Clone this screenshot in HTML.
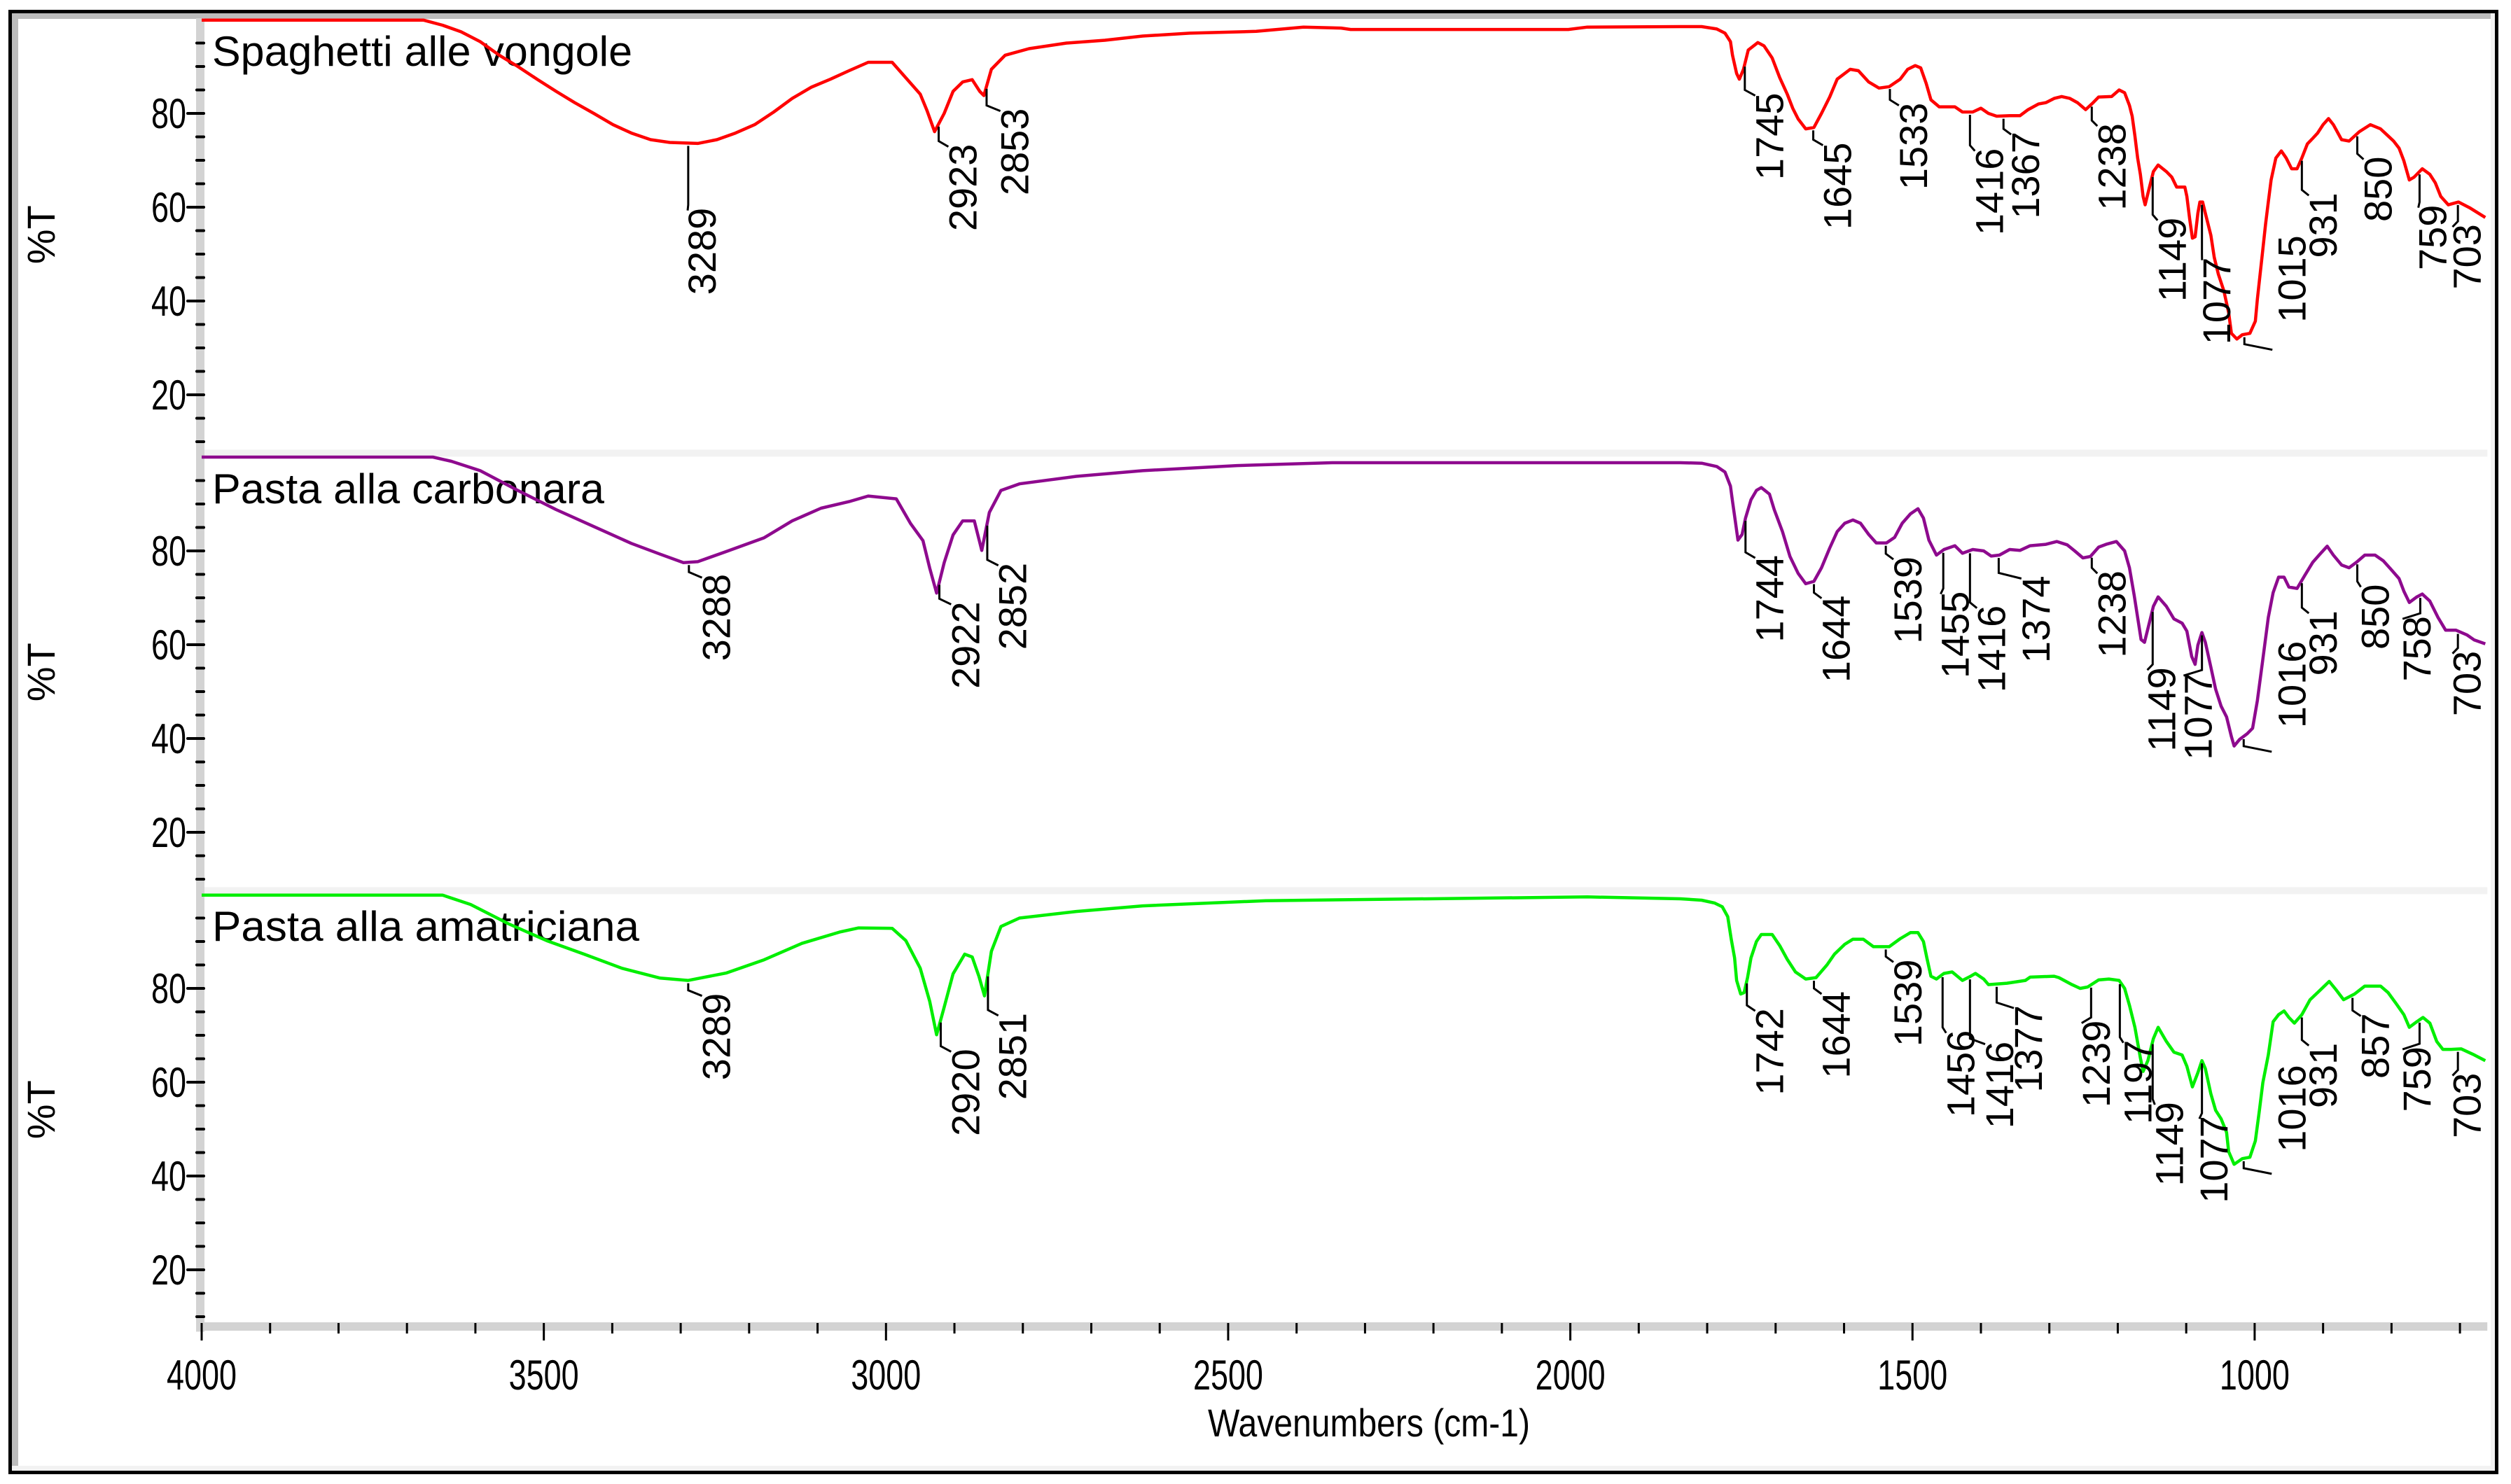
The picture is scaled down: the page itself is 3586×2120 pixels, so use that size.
<!DOCTYPE html>
<html><head><meta charset="utf-8"><style>
html,body{margin:0;padding:0;background:#fff;}
svg{display:block;font-family:"Liberation Sans",Arial,sans-serif;}
</style></head><body>
<svg id="chart" width="3586" height="2120" viewBox="0 0 3586 2120" xmlns="http://www.w3.org/2000/svg">
<rect x="0" y="0" width="3586" height="2120" fill="#fff"/>
<rect x="17" y="19" width="3545" height="8" fill="#bcbcbc"/>
<rect x="17" y="19" width="9" height="2082" fill="#bcbcbc"/>
<rect x="3557" y="19" width="7" height="2082" fill="#f2f2f2"/>
<rect x="17" y="2094" width="3545" height="7" fill="#f2f2f2"/>
<rect x="14.5" y="16.5" width="3551" height="2087" fill="none" stroke="#000" stroke-width="5"/>
<g id="panels"></g>
<g id="xaxis"></g>
<text x="1955" y="2052" font-size="56" text-anchor="middle" textLength="460" lengthAdjust="spacingAndGlyphs">Wavenumbers (cm-1)</text>
</svg>
<script>
const NS='http://www.w3.org/2000/svg';
// ---- data ----
const panelTitles=['Spaghetti alle vongole','Pasta alla carbonara','Pasta alla amatriciana'];
const seriesColors=['#ff0000','#8e0a8e','#00ee00'];
const yTicks=[20,40,60,80];
const xTicks=[4000,3500,3000,2500,2000,1500,1000];

const redWn=[4000,3676,3648,3621,3593,3565,3538,3510,3482,3455,3427,3399,3372,3344,3316,3275,3247,3220,3192,3164,3137,3109,3081,3054,3026,2991,2971,2950,2940,2929,2915,2902,2888,2874,2863,2857,2846,2826,2791,2736,2680,2625,2556,2459,2390,2335,2321,2003,1975,1839,1808,1786,1774,1766,1763,1757,1753,1747,1740,1726,1717,1705,1694,1683,1675,1667,1656,1644,1633,1621,1610,1591,1579,1564,1549,1534,1518,1507,1496,1488,1480,1473,1461,1438,1427,1412,1400,1389,1377,1358,1343,1331,1316,1305,1293,1282,1270,1259,1247,1236,1228,1209,1198,1190,1183,1179,1175,1171,1167,1163,1160,1156,1148,1141,1129,1121,1114,1102,1099,1095,1091,1087,1083,1080,1076,1072,1064,1059,1053,1045,1038,1034,1026,1018,1007,999,996,992,988,984,980,976,969,961,954,946,938,931,923,915,908,900,892,885,873,862,847,831,816,805,797,789,782,774,767,755,744,736,728,717,702,686,663];
const redT=[99.9,99.9,98.8,97.4,95.3,92.4,90.0,87.3,84.7,82.3,80.0,77.6,75.8,74.4,73.8,73.6,74.4,75.8,77.6,80.3,83.2,85.6,87.3,89.1,90.9,90.9,87.6,84.1,80.6,76.1,80.0,84.7,86.7,87.2,84.7,83.8,89.4,92.4,93.8,95.0,95.6,96.5,97.1,97.5,98.4,98.2,97.9,97.9,98.4,98.5,98.5,98.0,97.1,95.3,92.4,88.5,87.3,89.4,93.5,95.1,94.4,91.8,87.6,84.1,81.1,78.8,76.7,77.0,80.0,83.5,87.3,89.4,89.1,86.7,85.4,85.7,87.3,89.4,90.2,89.7,86.4,82.9,81.4,81.4,80.3,80.3,81.1,80.0,79.4,79.5,79.5,80.8,82.0,82.3,83.2,83.6,83.2,82.3,80.8,82.3,83.5,83.6,85.0,84.4,81.7,79.4,75.2,70.5,67.0,62.3,60.5,62.9,67.6,69.0,67.6,66.4,64.3,64.3,62.3,57.5,53.4,53.7,58.7,61.1,61.1,58.7,54.0,49.3,45.7,42.2,37.5,33.1,31.9,32.8,33.1,35.7,40.4,45.7,51.0,56.4,61.1,65.8,70.5,72.0,70.5,68.2,68.2,70.5,73.5,74.7,75.8,77.6,78.9,77.6,74.4,74.1,76.1,77.6,76.7,75.2,74.1,72.6,69.9,65.8,66.4,68.2,67.0,65.2,62.3,60.5,61.1,59.9,57.8];

const purpleWn=[4000,3662,3635,3593,3538,3482,3427,3372,3330,3296,3275,3233,3178,3137,3095,3054,3026,2985,2964,2946,2936,2926,2915,2902,2888,2871,2860,2849,2832,2805,2722,2625,2487,2348,1839,1808,1786,1774,1766,1763,1759,1755,1749,1744,1736,1728,1721,1709,1702,1690,1679,1667,1656,1644,1633,1621,1610,1599,1587,1576,1564,1553,1538,1526,1515,1503,1492,1484,1476,1465,1454,1438,1427,1412,1396,1385,1373,1358,1343,1328,1305,1289,1274,1263,1251,1240,1228,1217,1202,1190,1183,1176,1171,1166,1161,1154,1148,1141,1129,1118,1106,1099,1092,1087,1083,1077,1072,1064,1057,1049,1041,1034,1030,1022,1011,1003,996,988,980,973,965,957,950,938,927,915,904,894,885,873,862,851,839,824,812,801,789,782,774,763,755,744,732,721,706,690,679,663];
const purpleT=[100,100,99.1,97.1,92.9,88.8,85.2,81.6,79.3,77.5,77.7,79.9,82.8,86.4,89.1,90.5,91.7,91.1,85.8,82.2,76.3,71.0,77.5,83.4,86.4,86.4,80.1,88.2,92.9,94.3,95.9,97.1,98.2,98.8,98.8,98.7,98.0,96.8,93.8,90.6,86.5,82.3,83.5,87.0,90.9,92.9,93.5,92.1,88.8,84.1,78.8,75.2,73.0,73.5,76.4,80.6,84.1,85.9,86.6,85.9,83.5,81.7,81.7,82.9,85.9,87.9,89.0,87.0,82.3,79.1,80.3,81.1,79.5,80.3,80.0,78.9,79.1,80.3,80.1,81.1,81.4,82.0,81.3,80.0,78.5,78.8,80.8,81.4,82.0,80.0,76.4,70.5,65.8,61.1,60.5,64.6,68.2,70.2,68.2,65.5,64.6,62.9,57.5,55.8,59.9,62.6,60.5,55.2,50.5,46.9,44.6,40.4,38.4,39.8,41.0,42.2,48.1,56.9,65.8,71.1,74.4,74.4,72.3,72.0,74.7,77.6,79.4,81.0,79.1,77.0,76.4,77.6,79.1,79.1,77.9,76.1,74.1,71.4,69.0,70.2,70.8,69.3,65.8,63.1,63.1,62.1,61.0,60.2];

const greenWn=[4000,3648,3607,3552,3496,3441,3386,3330,3289,3233,3178,3123,3068,3040,2991,2971,2950,2936,2926,2915,2902,2885,2874,2864,2856,2846,2832,2805,2722,2625,2445,1975,1839,1808,1789,1778,1770,1765,1760,1757,1751,1746,1741,1736,1728,1721,1705,1694,1683,1671,1656,1641,1625,1614,1599,1587,1572,1557,1534,1518,1503,1492,1484,1479,1473,1465,1454,1442,1427,1415,1408,1396,1389,1362,1335,1328,1293,1286,1267,1255,1244,1228,1213,1198,1190,1183,1175,1167,1163,1156,1148,1141,1129,1118,1106,1099,1091,1083,1077,1072,1064,1057,1049,1041,1038,1030,1018,1007,999,993,988,980,973,965,957,950,942,931,919,908,891,881,870,854,839,816,805,793,782,774,763,754,744,734,725,713,698,679,663];
const greenT=[99.9,99.9,97.9,93.8,90.2,87.3,84.3,82.2,81.7,83.3,86.1,89.6,92.0,92.9,92.8,90.2,84.3,77.2,70.1,76.0,83.1,87.3,86.7,82.5,78.4,87.9,93.2,95.0,96.4,97.6,98.7,99.5,99.1,98.8,98.2,97.4,95.3,90.6,86.5,81.7,78.8,79.1,82.3,86.5,90.0,91.5,91.5,89.1,86.2,83.5,82.0,82.3,85.0,87.3,89.4,90.5,90.5,88.9,88.9,90.6,91.9,91.9,90.0,86.5,82.6,82.0,83.2,83.5,81.7,82.6,83.2,82.0,80.8,81.1,81.7,82.4,82.6,82.3,80.8,80.0,80.3,81.8,82.0,81.7,80.0,76.4,71.7,65.2,62.3,64.6,69.3,71.7,68.7,66.4,65.8,63.4,59.0,62.0,64.6,62.9,57.5,54.0,52.2,49.3,45.2,42.5,43.7,44.0,47.5,54.0,59.9,65.8,72.9,74.4,75.2,73.8,72.6,74.4,77.6,79.1,81.5,79.7,77.6,78.8,80.5,80.5,79.1,76.7,74.4,71.7,72.9,73.8,72.6,68.7,67.0,67.0,67.1,65.8,64.6];

// peak labels: wavenumber, text top (%T), text column wavenumber
const redPeakWn=[3289,2923,2853,1745,1645,1533,1416,1367,1238,1149,1077,1015,931,850,759,703];
const redPeakTop=[59.9,73.5,81.1,84.4,73.8,82.3,72.6,76.1,77.9,57.8,49.3,54.0,63.1,70.8,60.5,56.4];
const redPeakCol=[3296,2915,2839,1736,1637,1526,1415,1362,1236,1148,1083,973,927,847,767,717];
const purplePeakWn=[3288,2922,2852,1744,1644,1539,1455,1416,1374,1238,1149,1077,1016,931,850,758,703];
const purplePeakTop=[75.1,69.2,77.5,79.1,70.5,78.8,71.4,68.4,74.7,75.8,55.2,54.0,60.8,67.3,72.9,66.1,58.7];
const purplePeakCol=[3275,2911,2842,1736,1639,1534,1465,1412,1347,1236,1163,1110,973,927,851,790,717];
const greenPeakWn=[3289,2920,2851,1742,1644,1539,1456,1416,1377,1239,1197,1149,1077,1016,931,857,759,703];
const greenPeakTop=[79.0,67.1,74.8,75.8,79.4,86.2,71.1,68.7,76.4,73.2,69.0,55.8,52.8,63.7,68.4,74.7,67.6,62.0];
const greenPeakCol=[3275,2911,2842,1736,1639,1534,1457,1400,1358,1259,1198,1152,1087,973,927,851,790,717];

// ---- axes ----
const X0=288, PXW=0.9773, WN_MIN=660;
function xS(wn){return X0+(4000-wn)*PXW;}
function yS(p,t){return 162+p*625-(t-80)*6.7;}
const XR=xS(WN_MIN);
function interp(wns,ts,w){for(let i=0;i<wns.length-1;i++){if(w<=wns[i]&&w>=wns[i+1]){const f=(wns[i]-w)/(wns[i]-wns[i+1]||1);return ts[i]+f*(ts[i+1]-ts[i]);}}return ts[ts.length-1];}
function mk(tag,attrs,parent){const e=document.createElementNS(NS,tag);for(const k in attrs)e.setAttribute(k,attrs[k]);parent.appendChild(e);return e;}

const panels=document.getElementById('panels');
const allWn=[redWn,purpleWn,greenWn], allT=[redT,purpleT,greenT];
const pkW=[redPeakWn,purplePeakWn,greenPeakWn], pkT=[redPeakTop,purplePeakTop,greenPeakTop], pkC=[redPeakCol,purplePeakCol,greenPeakCol];

for(let p=0;p<3;p++){
  const g=mk('g',{},panels);
  
  
  const top=yS(p,100), bot=yS(p,8.3);
  // separator band
  if(p<2){const s=mk('rect',{x:292,y:bot,width:XR-292,height:10,fill:'#f2f2f2'},g);
    
    }
  // y axis band
  const band=mk('rect',{x:280,y:top-2,width:12,height:bot-top+12,fill:'#d3d3d3'},g);
  
  
  for(let v=10;v<=95;v+=5){
    const major=yTicks.includes(v);
    const t=mk('line',{x1:major?268:281,x2:291,y1:yS(p,v),y2:yS(p,v),stroke:'#000','stroke-width':4,'stroke-linecap':'round'},g);
    
    
  }
  yTicks.forEach(v=>{
    const tx=mk('text',{x:266,y:yS(p,v)+21,'font-size':60,'text-anchor':'end',textLength:50,lengthAdjust:'spacingAndGlyphs'},g);
    tx.textContent=String(v);
    
    
  });
  const yt=mk('text',{x:0,y:0,'font-size':56,'text-anchor':'middle',transform:`translate(78,${(top+bot)/2}) rotate(-90)`},g);
  yt.textContent='%T';
  
  
  // title
  const tt=mk('text',{x:303,y:top+66,'font-size':60,textLength:p===0?600:(p===1?560:610),lengthAdjust:'spacingAndGlyphs'},g);
  tt.textContent=panelTitles[p];
  
  
  // spectrum
  const wns=allWn[p], ts=allT[p];
  let d='';
  for(let i=0;i<wns.length;i++){d+=(i?'L':'M')+xS(wns[i]).toFixed(1)+','+yS(p,ts[i]).toFixed(1);}
  const path=mk('path',{d:d,fill:'none',stroke:seriesColors[p],'stroke-width':4.5,'stroke-linejoin':'round'},g);
  
  
  // peak labels
  const W=pkW[p],T=pkT[p],C=pkC[p];
  for(let i=0;i<W.length;i++){
    const cv=interp(wns,ts,W[i]);
    const x=xS(W[i]), y1=yS(p,cv)+4, y2=Math.max(yS(p,T[i])-4,y1+10);
    const ld=mk('polyline',{points:`${x},${y1} ${x},${y2} ${Math.min(xS(C[i])+6,x+40)},${y2+8}`,fill:'none',stroke:'#000','stroke-width':3},g);
    
    
    const lx=xS(C[i])+46, ly=yS(p,T[i]);
    const lb=mk('text',{x:0,y:0,'font-size':56,'text-anchor':'end',transform:`translate(${lx.toFixed(1)},${ly.toFixed(1)}) rotate(-90)`},g);
    lb.textContent=String(W[i]);
    
    
  }
}
// x axis
const xa=document.getElementById('xaxis');
const xb=mk('rect',{x:280,y:1889,width:XR-280,height:12,fill:'#d3d3d3'},xa);


for(let w=4000;w>=700;w-=100){
  const major=w%500===0;
  const t=mk('line',{x1:xS(w),x2:xS(w),y1:1890,y2:major?1915:1905,stroke:'#000','stroke-width':3},xa);
  
  
}
xTicks.forEach(w=>{
  const t=mk('text',{x:xS(w),y:1985,'font-size':60,'text-anchor':'middle',textLength:100,lengthAdjust:'spacingAndGlyphs'},xa);
  t.textContent=String(w);
  
  
});
</script>
</body></html>
